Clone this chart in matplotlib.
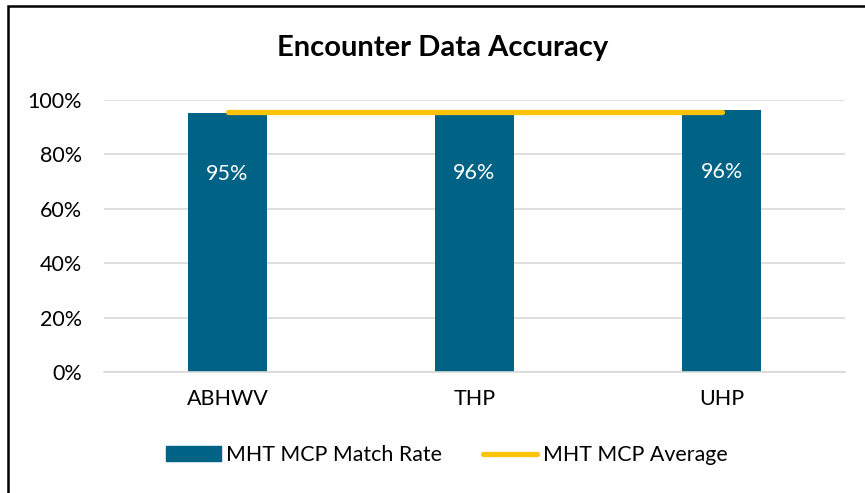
import matplotlib.pyplot as plt
from matplotlib.patches import Rectangle
from matplotlib.lines import Line2D
from matplotlib.ticker import PercentFormatter

# data
plans = ["ABHWV", "THP", "UHP"]
match_rate = [0.953, 0.956, 0.962]
rate_labels = ["95%", "96%", "96%"]
average = [0.957, 0.957, 0.957]

bar_color = "#006385"
avg_color = "#FCC30B"
plt.rcParams['font.family'] = ['Lato', 'DejaVu Sans']

fig = plt.figure(figsize=(8.65, 4.93), dpi=100)
ax = fig.add_axes([104 / 865, 1 - 372 / 493, 741 / 865, 272 / 493])

x = range(len(plans))
ax.bar(x, match_rate, width=0.316, color=bar_color, zorder=2)
ax.plot(x, average, color=avg_color, lw=3.8, solid_capstyle='round', zorder=3)

for i, (v, lab) in enumerate(zip(match_rate, rate_labels)):
    ax.text(i, v - 0.225, lab, ha='center', va='center', color='white', fontsize=15.5)

ax.set_xlim(-0.5, 2.5)
ax.set_ylim(0, 1.0)
ax.set_yticks([0, 0.2, 0.4, 0.6, 0.8, 1.0])
ax.yaxis.set_major_formatter(PercentFormatter(1.0, decimals=0))
ax.set_xticks(list(x))
ax.set_xticklabels(plans)
ax.tick_params(axis='both', length=0, labelsize=15.5, colors='black')
ax.tick_params(axis='x', pad=12)
ax.tick_params(axis='y', pad=16)
ax.grid(axis='y', color='#D9D9D9', lw=1.2, zorder=0)
ax.set_axisbelow(True)
for s in ax.spines.values():
    s.set_visible(False)
ax.spines['bottom'].set_visible(True)
ax.spines['bottom'].set_color('#D9D9D9')
ax.spines['bottom'].set_linewidth(1.2)

fig.text(443 / 865, 1 - 48 / 493, "Encounter Data Accuracy", ha='center', va='center',
         fontsize=21, fontweight='bold')

# legend
handles = [Rectangle((0, 0), 1, 1, color=bar_color),
           Line2D([0], [0], color=avg_color, lw=3.8, solid_capstyle='round')]
fig.legend(handles, ["MHT MCP Match Rate", "MHT MCP Average"], loc='center',
           bbox_to_anchor=(447 / 865, 1 - 455 / 493), ncol=2, frameon=False,
           fontsize=15.4, handlelength=2.55, handletextpad=0.25, columnspacing=1.9)

# outer frame of the figure box
fig.patches.append(Rectangle((8 / 865, -0.1), 1.1, 1 - 6 / 493 + 0.1, transform=fig.transFigure,
                             fill=False, edgecolor='black', lw=1.8))

fig.savefig("out.png", dpi=100)
